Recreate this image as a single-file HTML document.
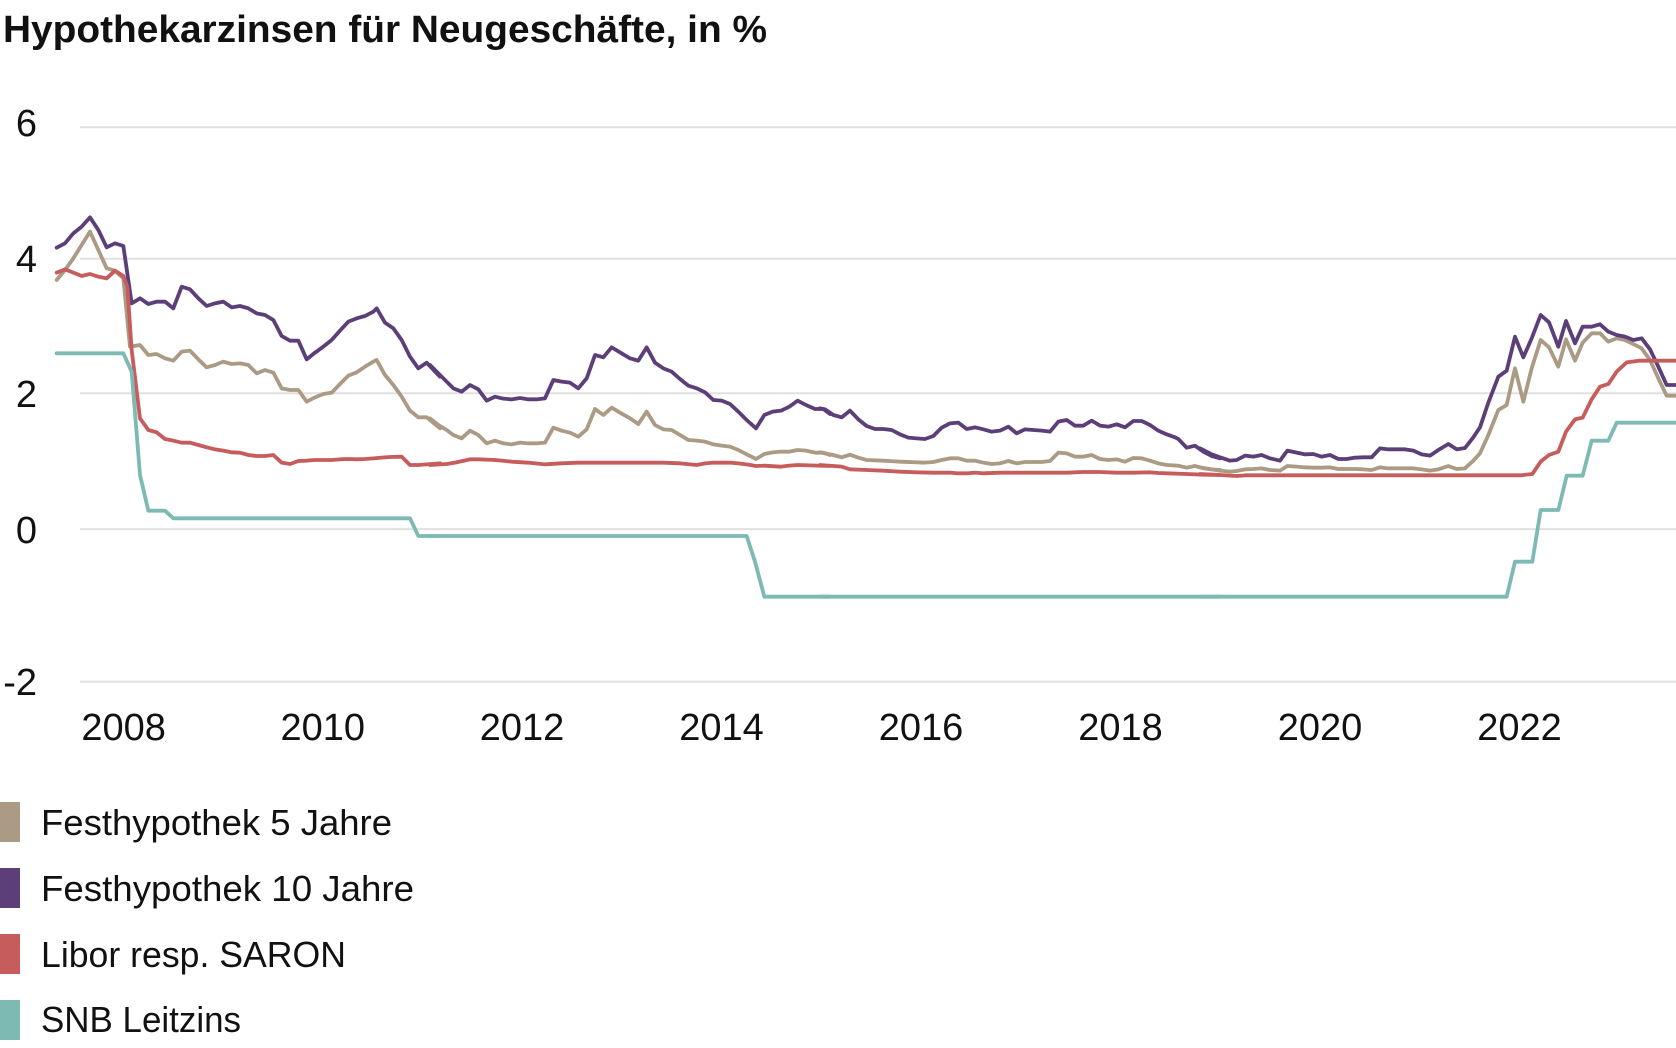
<!DOCTYPE html>
<html><head><meta charset="utf-8"><style>
html,body{margin:0;padding:0;background:#fff;}
svg{display:block;}
text{font-family:"Liberation Sans",Arial,sans-serif;fill:#111;}
</style></head><body>
<svg width="1676" height="1048" viewBox="0 0 1676 1048" xmlns="http://www.w3.org/2000/svg">
<rect width="1676" height="1048" fill="#fff"/>
<text x="3" y="42" font-size="38" font-weight="bold" textLength="764" lengthAdjust="spacingAndGlyphs">Hypothekarzinsen für Neugeschäfte, in %</text>

<g stroke="#e0e0e0" stroke-width="2">
<line x1="80" y1="127.2" x2="1676" y2="127.2"/>
<line x1="80" y1="258.7" x2="1676" y2="258.7"/>
<line x1="80" y1="393.3" x2="1676" y2="393.3"/>
<line x1="80" y1="529.1" x2="1676" y2="529.1"/>
<line x1="80" y1="681.7" x2="1676" y2="681.7"/>
</g>
<g font-size="38" text-anchor="end">
<text x="37" y="136">6</text>
<text x="37" y="272">4</text>
<text x="37" y="407">2</text>
<text x="37" y="543">0</text>
<text x="37" y="695">-2</text>
</g>
<g font-size="38" text-anchor="middle">
<text x="123.6" y="740">2008</text>
<text x="322.8" y="740">2010</text>
<text x="522" y="740">2012</text>
<text x="721.5" y="740">2014</text>
<text x="921" y="740">2016</text>
<text x="1120.5" y="740">2018</text>
<text x="1320" y="740">2020</text>
<text x="1519.5" y="740">2022</text>
</g>

<g fill="none" stroke-width="3.8" stroke-linejoin="round" stroke-linecap="round">
<g transform="translate(40,200) scale(0.333333)">
<polyline vector-effect="non-scaling-stroke" stroke="#ab9a84" points="50,240 75,210 100,175 125,135 150,95 175,150 200,205 225,212 250,235 270,440 300,435 325,465 350,462 375,475 400,482 425,455 450,452 475,478 500,502 525,495 550,485 575,492 600,490 625,495 650,520 675,510 700,518 725,565 750,570 775,570 800,605 825,592 850,582 875,578 900,552 925,527 950,517 975,500 1000,485 1010,480 1035,525 1060,555 1085,590 1110,632 1135,652 1160,652 1200,685"/>
<polyline vector-effect="non-scaling-stroke" stroke="#5c3e78" points="50,143 75,130 100,100 125,80 150,52 175,90 200,142 225,130 250,138 275,310 300,295 325,312 350,305 375,305 400,325 425,260 450,268 475,295 500,318 525,310 550,305 575,322 600,318 625,325 650,340 675,345 700,360 725,408 750,422 775,422 800,478 825,458 850,440 875,420 900,392 925,365 950,355 975,348 1000,335 1010,325 1035,368 1060,385 1085,420 1110,470 1135,505 1160,488 1200,530"/>
<polyline vector-effect="non-scaling-stroke" stroke="#c65c5c" points="50,218 75,208 100,218 125,228 150,222 175,230 200,235 225,212 250,228 262,260 275,450 300,655 325,690 350,697 375,717 400,722 425,728 450,728 475,735 500,742 525,748 550,752 575,757 600,758 625,765 650,768 675,768 700,765 725,788 750,792 775,783 800,782 825,780 850,780 875,780 900,778 925,777 950,778 975,777 1000,775 1025,773 1050,771 1085,770 1110,795 1135,795 1160,793 1200,790"/>
<polyline vector-effect="non-scaling-stroke" stroke="#7dbab4" points="50,460 250,460 275,515 300,825 325,932 375,932 400,955 1110,955 1135,1008 1200,1008"/>
</g>
<g transform="translate(430,200) scale(0.333333)">
<polyline vector-effect="non-scaling-stroke" stroke="#ab9a84" points="0,655 25,675 50,690 70,705 95,715 120,692 145,705 170,730 195,722 220,730 245,733 270,728 295,730 320,730 345,728 370,683 395,692 420,698 445,710 470,688 495,627 520,645 545,623 570,638 600,655 625,672 650,635 675,675 700,688 725,690 750,705 775,720 800,722 825,725 850,733 875,737 900,740 925,750 950,763 978,777 1003,762 1028,757 1053,755 1078,755 1103,750 1128,752 1155,758 1180,758 1200,765"/>
<polyline vector-effect="non-scaling-stroke" stroke="#5c3e78" points="0,495 25,520 50,545 70,565 95,575 120,555 145,568 170,602 195,590 220,596 245,598 270,594 295,598 320,598 345,595 370,540 395,545 420,548 445,565 470,535 495,465 520,472 545,442 570,457 600,475 625,482 650,442 675,488 700,505 725,515 750,537 775,557 800,565 825,577 850,600 875,602 900,612 925,635 950,660 978,685 1003,645 1028,635 1053,632 1078,620 1103,602 1128,615 1155,627 1180,627 1200,642"/>
<polyline vector-effect="non-scaling-stroke" stroke="#c65c5c" points="0,795 50,792 75,788 120,778 145,778 195,780 245,785 295,788 345,793 395,790 445,788 500,788 600,788 700,788 750,790 800,795 825,790 850,788 900,788 925,790 950,793 978,798 1003,797 1053,800 1078,797 1103,795 1200,798"/>
<polyline vector-effect="non-scaling-stroke" stroke="#7dbab4" points="0,1008 950,1008 975,1085 1003,1190 1200,1190"/>
</g>
<g transform="translate(820,200) scale(0.333333)">
<polyline vector-effect="non-scaling-stroke" stroke="#ab9a84" points="0,757 40,765 65,772 90,764 115,773 140,780 190,782 240,785 290,787 315,788 340,786 365,780 390,775 415,775 440,782 465,782 490,788 515,792 540,790 565,783 590,790 615,786 665,786 690,783 715,758 740,760 765,770 790,770 815,765 840,777 865,780 890,778 915,785 940,774 965,775 990,782 1015,790 1040,795 1075,797 1100,803 1125,798 1150,805 1175,808 1200,810"/>
<polyline vector-effect="non-scaling-stroke" stroke="#5c3e78" points="0,625 15,628 40,645 65,652 90,632 115,658 140,678 165,687 190,687 215,690 240,703 265,713 290,715 315,717 340,708 365,683 390,670 415,668 440,687 465,682 490,688 515,695 540,692 565,680 590,700 615,688 640,690 665,692 690,695 715,665 740,660 765,677 790,677 815,662 840,677 865,680 890,673 915,682 940,663 965,663 990,675 1015,692 1040,703 1065,712 1075,717 1100,743 1125,737 1150,755 1175,768 1200,775"/>
<polyline vector-effect="non-scaling-stroke" stroke="#c65c5c" points="0,795 40,798 65,800 90,808 140,810 190,812 240,815 290,817 340,818 390,818 415,820 440,820 465,818 490,820 540,818 590,818 640,818 740,818 790,816 840,816 890,818 940,818 990,817 1015,819 1040,820 1100,822 1150,824 1200,825"/>
<polyline vector-effect="non-scaling-stroke" stroke="#7dbab4" points="0,1190 1200,1190"/>
</g>
<g transform="translate(1200,250) scale(0.333333)">
<polyline vector-effect="non-scaling-stroke" stroke="#ab9a84" points="0,652 35,658 60,662 90,665 110,663 135,658 160,657 185,655 210,660 240,662 262,648 290,650 315,652 340,653 365,653 390,652 415,657 440,657 465,657 490,658 515,660 540,652 565,655 590,655 640,655 665,658 690,662 715,658 745,648 770,657 795,655 820,632 840,610 865,555 895,480 920,465 945,355 970,455 995,355 1022,270 1047,292 1075,350 1098,268 1125,332 1148,278 1175,250 1200,250 1225,275 1250,265 1275,270 1300,282 1325,295 1350,330 1375,385 1400,437 1430,437"/>
<polyline vector-effect="non-scaling-stroke" stroke="#5c3e78" points="0,595 35,613 60,622 90,632 110,630 135,617 160,620 185,615 210,625 240,632 262,602 290,608 315,613 340,612 365,620 390,615 415,627 440,627 465,623 490,622 515,622 540,595 565,598 590,598 615,598 640,602 665,613 690,617 715,600 745,582 770,598 795,594 820,562 840,532 865,458 895,380 920,362 945,260 970,322 995,265 1022,195 1047,217 1075,290 1098,213 1125,280 1148,230 1175,230 1200,223 1225,245 1250,255 1275,260 1300,270 1325,265 1350,298 1375,350 1400,405 1430,405"/>
<polyline vector-effect="non-scaling-stroke" stroke="#c65c5c" points="0,672 60,675 110,678 135,676 300,676 700,676 960,676 997,672 1022,635 1047,615 1075,605 1098,545 1125,508 1148,503 1175,448 1200,410 1225,402 1250,365 1280,337 1320,332 1430,332"/>
<polyline vector-effect="non-scaling-stroke" stroke="#7dbab4" points="0,1040 920,1040 945,935 997,935 1022,780 1075,780 1100,677 1148,677 1175,572 1225,572 1250,518 1430,518"/>
</g>
</g>

<rect x="0" y="802" width="20" height="40" fill="#ab9a84"/>
<rect x="0" y="868" width="20" height="40" fill="#5c3e78"/>
<rect x="0" y="934" width="20" height="40" fill="#c65c5c"/>
<rect x="0" y="1000" width="20" height="40" fill="#7dbab4"/>
<g font-size="36">
<text x="41" y="835" textLength="351" lengthAdjust="spacingAndGlyphs">Festhypothek 5 Jahre</text>
<text x="41" y="901" textLength="373" lengthAdjust="spacingAndGlyphs">Festhypothek 10 Jahre</text>
<text x="41" y="967" textLength="305" lengthAdjust="spacingAndGlyphs">Libor resp. SARON</text>
<text x="41" y="1032" textLength="200" lengthAdjust="spacingAndGlyphs">SNB Leitzins</text>
</g>
</svg>
</body></html>
